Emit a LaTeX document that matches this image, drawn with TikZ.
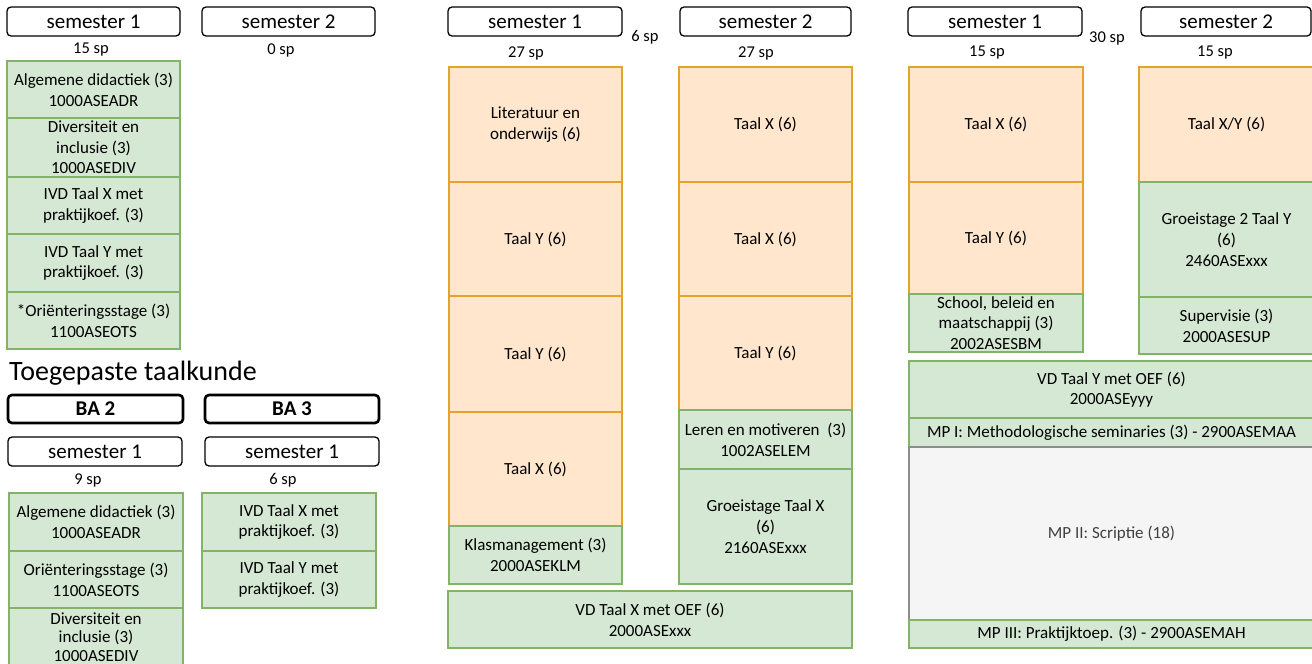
\documentclass[tikz,border=0pt]{standalone}
\usepackage{fontspec}
\setmainfont{Carlito}
\usetikzlibrary{positioning}

\definecolor{grnfill}{HTML}{D5E8D4}
\definecolor{grnline}{HTML}{82B366}
\definecolor{orfill}{HTML}{FFE6CC}
\definecolor{orline}{HTML}{E2A52A}
\definecolor{grsfill}{HTML}{F5F5F5}
\definecolor{grsline}{HTML}{8C8C8C}

\tikzset{
	semkop/.style={draw, rounded corners=4pt, line width=1.3pt, anchor=north west,
		minimum width=174pt, minimum height=29pt, inner sep=0pt, outer sep=0pt,
		font=\fontsize{21}{25}\selectfont},
	bakop/.style={semkop, line width=2.6pt, minimum height=28pt,
		font=\fontsize{21}{25}\selectfont\bfseries},
	vak/.style={anchor=north west, align=center, line width=1.6pt, inner sep=2pt,
		outer sep=0pt, font=\fontsize{17}{20.7}\selectfont},
	vakgroen/.style={vak, draw=grnline, fill=grnfill},
	vakoranje/.style={vak, draw=orline, fill=orfill},
	vakgrijs/.style={vak, draw=grsline, fill=grsfill, text=black!75},
	splabel/.style={font=\fontsize{16.5}{20}\selectfont},
}

\begin{document}
\begin{tikzpicture}[x=1pt,y=-1pt]
	\useasboundingbox (0,0) rectangle (1312,664);
	\clip (0,0) rectangle (1312,664);

	% eerste blok
	\node[semkop, minimum width=173pt] (kopA1) at (7,7) {semester 1};
	\node[semkop, minimum width=173pt] (kopA2) at (202,7) {semester 2};
	\node[splabel] (spA1) at (91,50) {15 sp};
	\node[splabel] (spA2) at (281,50) {0 sp};
	\node[vakgroen, minimum width=173pt, minimum height=57pt] (a1) at (7,61) {Algemene didactiek (3)\\1000ASEADR};
	\node[vakgroen, minimum width=173pt, minimum height=59pt] (a2) at (7,118) {Diversiteit en\\inclusie (3)\\1000ASEDIV};
	\node[vakgroen, minimum width=173pt, minimum height=57pt] (a3) at (7,177) {IVD Taal X met\\praktijkoef. (3)};
	\node[vakgroen, minimum width=173pt, minimum height=58pt] (a4) at (7,234) {IVD Taal Y met\\praktijkoef. (3)};
	\node[vakgroen, minimum width=173pt, minimum height=57pt] (a5) at (7,292) {*Oriënteringsstage (3)\\1100ASEOTS};

	% toegepaste taalkunde
	\node[anchor=west, inner sep=0pt, font=\fontsize{28}{34}\selectfont] (titel) at (9,373) {Toegepaste taalkunde};
	\node[bakop, minimum width=175pt] (ba2) at (8,395) {BA 2};
	\node[bakop, minimum width=174pt] (ba3) at (205,395) {BA 3};
	\node[semkop] (kopT1) at (8,437) {semester 1};
	\node[semkop] (kopT2) at (205,437) {semester 1};
	\node[splabel] (spT1) at (88,480) {9 sp};
	\node[splabel] (spT2) at (283,480) {6 sp};
	\node[vakgroen, minimum width=174pt, minimum height=58pt] (t1) at (9,493) {Algemene didactiek (3)\\1000ASEADR};
	\node[vakgroen, minimum width=174pt, minimum height=57pt] (t2) at (9,551) {Oriënteringsstage (3)\\1100ASEOTS};
	\node[vakgroen, minimum width=174pt, minimum height=58pt, font=\fontsize{17}{18.6}\selectfont] (t3) at (9,608) {Diversiteit en\\inclusie (3)\\1000ASEDIV};
	\node[vakgroen, minimum width=174pt, minimum height=58pt] (t4) at (202,493) {IVD Taal X met\\praktijkoef. (3)};
	\node[vakgroen, minimum width=174pt, minimum height=57pt] (t5) at (202,551) {IVD Taal Y met\\praktijkoef. (3)};

	% tweede blok
	\node[semkop] (kopB1) at (448,7) {semester 1};
	\node[semkop, minimum width=171pt] (kopB2) at (680,7) {semester 2};
	\node[splabel] (spB1) at (526,53) {27 sp};
	\node[splabel] (spB0) at (645,37) {6 sp};
	\node[splabel] (spB2) at (756,53) {27 sp};
	\node[vakoranje, minimum width=173pt, minimum height=115pt] (b1) at (449,67) {Literatuur en\\onderwijs (6)};
	\node[vakoranje, minimum width=173pt, minimum height=114pt] (b2) at (449,182) {Taal Y (6)};
	\node[vakoranje, minimum width=173pt, minimum height=116pt] (b3) at (449,296) {Taal Y (6)};
	\node[vakoranje, minimum width=173pt, minimum height=114pt] (b4) at (449,412) {Taal X (6)};
	\node[vakgroen, minimum width=173pt, minimum height=58pt] (b5) at (449,526) {Klasmanagement (3)\\2000ASEKLM};
	\node[vakoranje, minimum width=173pt, minimum height=115pt] (c1) at (679,67) {Taal X (6)};
	\node[vakoranje, minimum width=173pt, minimum height=114pt] (c2) at (679,182) {Taal X (6)};
	\node[vakoranje, minimum width=173pt, minimum height=114pt] (c3) at (679,296) {Taal Y (6)};
	\node[vakgroen, minimum width=173pt, minimum height=59pt] (c4) at (679,410) {Leren en motiveren~ (3)\\1002ASELEM};
	\node[vakgroen, minimum width=173pt, minimum height=115pt] (c5) at (679,469) {Groeistage Taal X\\(6)\\2160ASExxx};
	\node[vakgroen, minimum width=404pt, minimum height=57pt] (vdx) at (448,591) {VD Taal X met OEF (6)\\2000ASExxx};

	% derde blok
	\node[semkop] (kopC1) at (908,7) {semester 1};
	\node[semkop, minimum width=170pt] (kopC2) at (1141,7) {semester 2};
	\node[splabel] (spC1) at (987,53) {15 sp};
	\node[splabel] (spC0) at (1107,38) {30 sp};
	\node[splabel] (spC2) at (1215,53) {15 sp};
	\node[vakoranje, minimum width=174pt, minimum height=115pt] (d1) at (909,67) {Taal X (6)};
	\node[vakoranje, minimum width=174pt, minimum height=112pt] (d2) at (909,182) {Taal Y (6)};
	\node[vakgroen, minimum width=174pt, minimum height=58pt] (d3) at (909,294) {School, beleid en\\maatschappij (3)\\2002ASESBM};
	\node[vakoranje, minimum width=175pt, minimum height=115pt] (e1) at (1139,67) {Taal X/Y (6)};
	\node[vakgroen, minimum width=175pt, minimum height=115pt] (e2) at (1139,182) {Groeistage 2 Taal Y\\(6)\\2460ASExxx};
	\node[vakgroen, minimum width=175pt, minimum height=57pt] (e3) at (1139,297) {Supervisie (3)\\2000ASESUP};
	\node[vakgroen, minimum width=405pt, minimum height=57pt] (vdy) at (909,361) {VD Taal Y met OEF (6)\\2000ASEyyy};
	\node[vakgroen, minimum width=405pt, minimum height=29pt] (mp1) at (909,418) {MP I: Methodologische seminaries (3) - 2900ASEMAA};
	\node[vakgrijs, minimum width=405pt, minimum height=173pt] (mp2) at (909,447) {MP II: Scriptie (18)};
	\node[vakgroen, minimum width=405pt, minimum height=28pt] (mp3) at (909,620) {MP III: Praktijktoep. (3) - 2900ASEMAH};
\end{tikzpicture}
\end{document}
